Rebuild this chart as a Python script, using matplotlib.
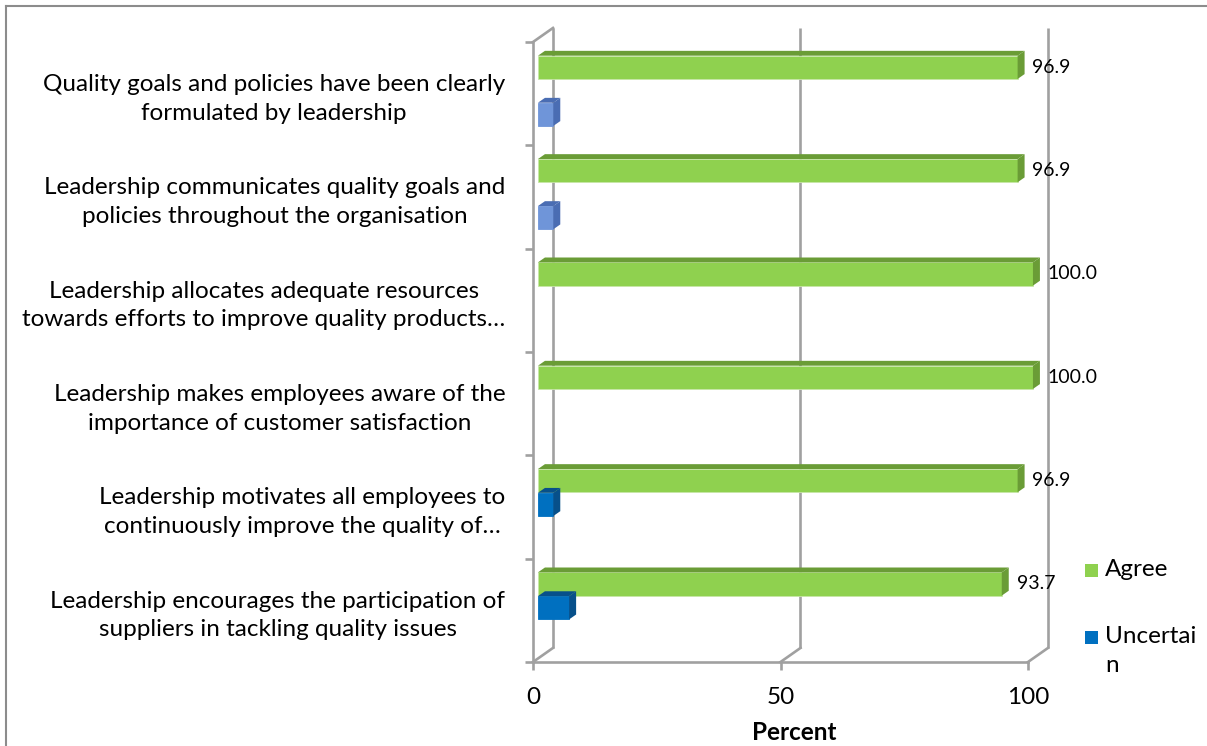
import matplotlib
matplotlib.use("Agg")
import matplotlib.pyplot as plt
from matplotlib.patches import Polygon, Rectangle
from matplotlib.lines import Line2D

plt.rcParams['font.family'] = ['Lato', 'DejaVu Sans']

# ---- data ----
categories = [
    "Quality goals and policies have been clearly\nformulated by leadership",
    "Leadership communicates quality goals and\npolicies throughout the organisation",
    "Leadership allocates adequate resources\ntowards efforts to improve quality products\u2026",
    "Leadership makes employees aware of the\nimportance of customer satisfaction",
    "Leadership motivates all employees to\ncontinuously improve the quality of\u2026",
    "Leadership encourages the participation of\nsuppliers in tackling quality issues",
]
agree = [96.9, 96.9, 100.0, 100.0, 96.9, 93.7]
uncertain = [0.0, 0.0, 0.0, 0.0, 3.1, 6.3]
disagree = [3.1, 3.1, 0.0, 0.0, 0.0, 0.0]
x_ticks = [0, 50, 100]
legend_labels = ["Agree", "Uncertai\nn"]

# ---- styling ----
W, H = 1207, 746
GRAY = '#a0a0a0'
series = [
    # values, slot centre within category, front colour, shade colour
    (agree, 0.755, '#8fd14f', '#6a9c36'),
    (uncertain, 0.525, '#0070c0', '#07508a'),
    (disagree, 0.300, '#6f95d9', '#4a6db3'),
]
BAR_H = 0.225
X_OFF = 1.0            # bars sit a little behind the front plane
DX, DY = 4.04, 0.136   # depth of the back wall in data units
BDX, BDY = 1.41, 0.047 # depth of each bar
FS = 17.5

fig = plt.figure(figsize=(W / 100, H / 100), dpi=100)
ax = fig.add_axes([533 / W, 1 - 662 / H, (1028 - 533) / W, (662 - 42) / H])
ax.set_xlim(0, 100)
ax.set_ylim(0, len(categories))
ax.patch.set_visible(False)

n = len(categories)

# back wall gridlines and floor slants
for xv in x_ticks:
    ax.plot([xv + DX, xv + DX], [DY, n + DY], color=GRAY, lw=1.9,
            clip_on=False, zorder=1, solid_capstyle='butt')
    ax.plot([xv, xv + DX], [0, DY], color=GRAY, lw=1.9, clip_on=False, zorder=1)
ax.plot([0, DX], [n, n + DY], color=GRAY, lw=1.9, clip_on=False, zorder=1)

# 3-D bars
for vals, slot, c_front, c_shade in series:
    ys = [n - 1 - i + slot for i in range(n)]
    vv = [v if v > 0 else 0 for v in vals]
    bars = ax.barh(ys, vv, left=X_OFF, height=BAR_H, color=c_front,
                   edgecolor='#c8e6a8' if c_front == '#8fd14f' else c_front,
                   linewidth=0.6, zorder=3)
    for y, v, bar in zip(ys, vals, bars):
        bar.set_clip_on(False)
        if v <= 0:
            bar.set_visible(False)
            continue
        x0, x1 = X_OFF, X_OFF + v
        top, bot = y + BAR_H / 2, y - BAR_H / 2
        ax.add_patch(Polygon([(x0, top), (x1, top), (x1 + BDX, top + BDY),
                              (x0 + BDX, top + BDY)], closed=True,
                             facecolor=c_shade, edgecolor='none',
                             zorder=3, clip_on=False))
        ax.add_patch(Polygon([(x1, bot), (x1, top), (x1 + BDX, top + BDY),
                              (x1 + BDX, bot + BDY)], closed=True,
                             facecolor=c_shade, edgecolor='none',
                             zorder=3, clip_on=False))

# value labels on the Agree bars
for i, v in enumerate(agree):
    y = n - 1 - i + series[0][1]
    ax.text(X_OFF + v + 3.0, y, f"{v:.1f}", ha='left', va='center',
            fontsize=14, color='#000000', zorder=5, clip_on=False)

# axes: front wall and floor
for s in ['top', 'right']:
    ax.spines[s].set_visible(False)
for s in ['left', 'bottom']:
    ax.spines[s].set_color(GRAY)
    ax.spines[s].set_linewidth(1.9)
    ax.spines[s].set_zorder(2)

ax.set_xticks(x_ticks)
ax.set_xticklabels([str(t) for t in x_ticks], fontsize=FS)
ax.tick_params(axis='x', length=6, width=1.9, color=GRAY, pad=12)

ax.set_yticks(range(n + 1))
ax.set_yticklabels([])
ax.tick_params(axis='y', which='major', length=6, width=1.9, color=GRAY)
ax.set_yticks([n - 1 - i + 0.505 for i in range(n)], categories, minor=True)
ax.tick_params(axis='y', which='minor', length=0, pad=20, labelsize=FS)
for lbl in ax.get_yticklabels(minor=True):
    lbl.set_multialignment('center')
    lbl.set_linespacing(1.45)

ax.set_xlabel("Percent", fontsize=FS, fontweight='bold', labelpad=9)
ax.xaxis.label.set_x((794 - 533) / (1028 - 533))

# legend
leg_colors = [series[0][2], series[1][2]]
leg_y = [570, 637]
for lab, col, ly in zip(legend_labels, leg_colors, leg_y):
    fig.add_artist(Rectangle((1085 / W, 1 - (ly + 7) / H), 13 / W, 13 / H,
                             transform=fig.transFigure, facecolor=col,
                             edgecolor='none'))
    fig.text(1105 / W, 1 - (ly - 11) / H, lab, ha='left', va='top',
             fontsize=FS, linespacing=1.5)

# chart frame
fig.add_artist(Line2D([6 / W, 6 / W], [0, 1 - 6 / H], transform=fig.transFigure,
                      color='#8c8c8c', lw=1.5))
fig.add_artist(Line2D([6 / W, 1], [1 - 6 / H, 1 - 6 / H], transform=fig.transFigure,
                      color='#8c8c8c', lw=1.5))

fig.savefig("out.png", dpi=100)
